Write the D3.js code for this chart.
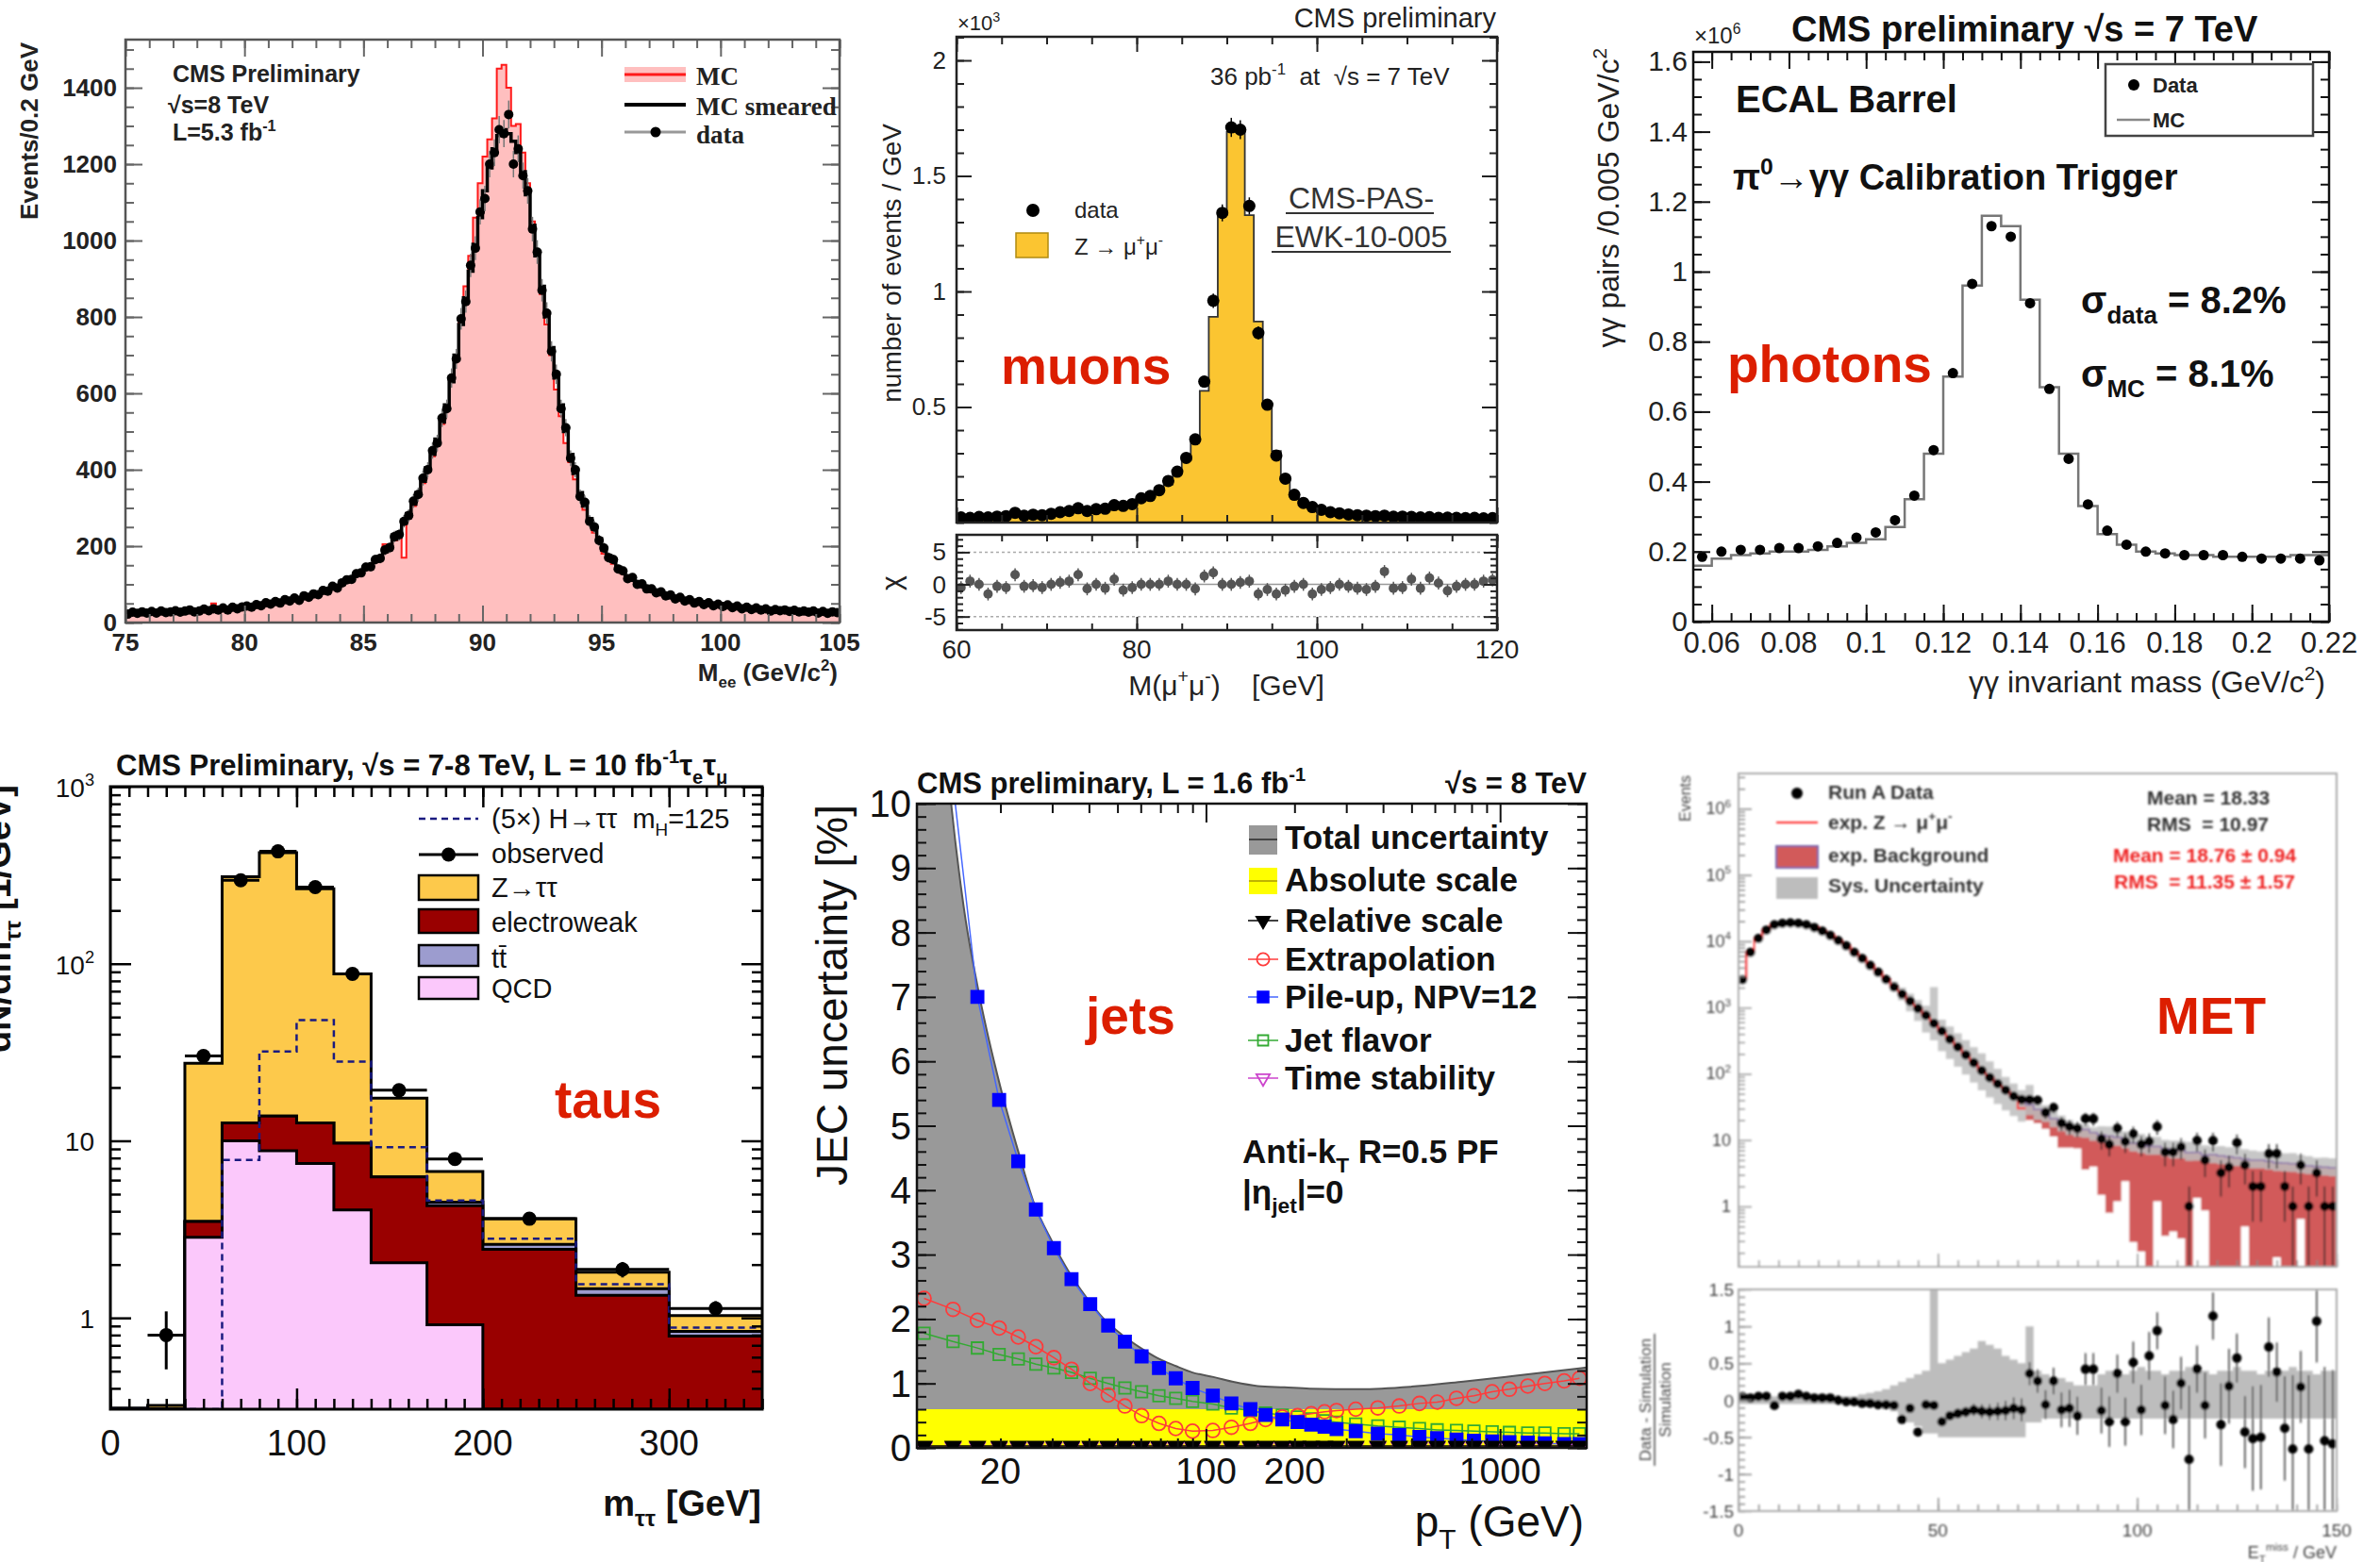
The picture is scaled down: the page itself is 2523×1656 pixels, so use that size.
<!DOCTYPE html>
<html>
<head>
<meta charset="utf-8">
<script src="https://cdn.jsdelivr.net/npm/d3@7"></script>
<style>
  body { margin: 0; background: #fff; }
  svg { display: block; }
  text { white-space: pre; }
</style>
</head>
<body>
<svg id="chart"></svg>
<script>
// ---- Z -> ee (top left), 0.2 GeV bins from 75 to 105 ----
const eeMC = [24,26,25,27,25, 27,26,28,27,29, 28,30,29,31,30, 32,31,33,50,34, 35,37,36,39,38,
  41,42,45,46,49, 51,53,55,57,60, 61,64,67,70,73, 76,80,86,90,96, 101,106,115,122,130,
  140,148,158,170,205, 200,215,235,170,280, 305,335,365,400,435, 475,520,565,630,700,
  790,880,960,1060,1150, 1220,1265,1320,1450,1460, 1400,1300,1305,1230,1150, 1050,960,860,780,700,
  610,540,470,420,375, 330,295,262,235,210, 180,168,154,140,128, 118,110,102,95,89,
  83,79,75,71,67, 63,60,58,55,53, 51,49,48,46,45, 44,42,41,40,38,
  37,36,35,34,33, 33,32,31,31,30, 30,29,29,28,28, 27,26,26,25,25];
const eeSmeared = [25,25,26,26,26, 27,27,27,28,28, 28,29,29,30,30, 31,32,32,33,34, 35,36,37,38,39,
  40,42,44,46,48, 50,52,54,56,58, 60,63,66,69,72, 75,80,85,90,95, 100,108,116,124,132,
  140,150,160,172,186, 200,218,236,260,285, 310,340,370,405,440, 480,525,570,630,700,
  780,850,920,990,1060, 1130,1190,1240,1275,1290, 1280,1260,1230,1180,1120, 1040,960,880,800,720,
  640,570,500,440,390, 340,305,272,245,220, 190,175,160,145,132, 120,112,104,97,91,
  85,81,77,73,69, 65,62,59,56,54, 52,50,49,47,46, 45,43,42,40,39,
  38,37,36,35,34, 33,32,32,31,31, 30,30,29,29,28, 27,27,26,26,25];
const eeData = [22,27,24,28,25, 29,25,30,26,28, 31,27,30,33,28, 30,35,31,36,33, 38,33,40,36,41,
  43,40,47,44,52, 48,55,51,60,56, 64,58,70,66,75, 73,84,82,95,90, 104,112,113,128,130,
  145,146,165,168,190, 196,225,230,265,280, 318,335,378,400,450, 470,535,560,640,690,
  795,840,935,980,1075, 1110,1200,1230,1290,1280, 1330,1200,1240,1170,1130, 1030,970,870,810,710,
  650,560,510,430,400, 330,315,265,250,215, 195,170,165,140,135, 115,118,100,101,88,
  88,78,80,70,72, 62,66,56,60,51, 55,47,52,44,48, 42,46,39,43,36,
  40,34,38,33,36, 30,34,31,33,29, 32,28,30,27,30, 25,29,24,28,26];
const eeXTicks = [75, 80, 85, 90, 95, 100, 105];
const eeYTicks = [0, 200, 400, 600, 800, 1000, 1200, 1400];

// ---- Z -> mumu (top middle), 1 GeV bins from 60 to 120, in units of 10^3 ----
const muData = [0.022,0.02,0.024,0.022,0.026,0.028,0.042,0.03,0.034,0.032,
  0.038,0.045,0.05,0.062,0.05,0.058,0.06,0.075,0.072,0.08,
  0.105,0.115,0.14,0.18,0.22,0.28,0.36,0.61,0.96,1.34,
  1.71,1.70,1.37,0.82,0.51,0.29,0.19,0.12,0.085,0.067,
  0.055,0.045,0.04,0.035,0.032,0.03,0.028,0.03,0.025,0.026,
  0.024,0.022,0.023,0.02,0.021,0.02,0.019,0.02,0.018,0.019];
const muMC = [0.022,0.023,0.024,0.025,0.026,0.028,0.03,0.032,0.034,0.036,
  0.039,0.042,0.046,0.05,0.054,0.058,0.063,0.069,0.076,0.085,
  0.097,0.112,0.135,0.165,0.21,0.27,0.37,0.57,0.89,1.33,
  1.69,1.69,1.33,0.87,0.5,0.31,0.19,0.125,0.088,0.066,
  0.053,0.045,0.039,0.035,0.032,0.03,0.028,0.026,0.025,0.024,
  0.023,0.022,0.021,0.021,0.02,0.02,0.019,0.019,0.018,0.018];
const muChi = [-0.5,0.5,0,-1.5,-0.3,-0.5,1.5,-0.3,-0.2,-0.5,
  0,0.3,0.5,1.5,-0.7,0,-0.6,0.8,-0.9,-0.5,
  0,0,0,0.5,0,0,-0.7,1.3,1.8,0,
  0,0.3,0.5,-1.5,-0.8,-1.5,-0.9,-0.3,0,-1.5,
  -0.8,-0.5,0,-0.3,-0.6,-0.8,-0.3,2,-0.6,-0.5,
  0.8,-0.6,1,0.2,-1,-0.3,0,0,0.5,0.7];
const muXTicks = [60, 80, 100, 120];
const muYTicks = [0.5, 1, 1.5, 2];
const muChiTicks = [-5, 0, 5];

// ---- pi0 -> gamma gamma (top right), 0.005 bins from 0.055 to 0.22, units of 10^6 ----
const pi0MC = [0.16,0.18,0.19,0.195,0.2,0.2,0.205,0.215,0.225,0.235,
  0.27,0.35,0.48,0.70,0.96,1.16,1.13,0.92,0.67,0.48,
  0.33,0.25,0.22,0.2,0.195,0.19,0.19,0.185,0.185,0.185,
  0.185,0.19,0.19];
const pi0Data = [0.185,0.2,0.205,0.205,0.21,0.21,0.215,0.225,0.24,0.255,
  0.29,0.36,0.49,0.71,0.965,1.13,1.10,0.91,0.665,0.465,
  0.335,0.26,0.22,0.2,0.195,0.19,0.19,0.19,0.185,0.18,
  0.18,0.18,0.175];
const pi0XTicks = [0.06, 0.08, 0.1, 0.12, 0.14, 0.16, 0.18, 0.2, 0.22];
const pi0YTicks = [0, 0.2, 0.4, 0.6, 0.8, 1, 1.2, 1.4, 1.6];

// ---- tau tau (bottom left) ----
const tauEdges = [0, 20, 40, 60, 80, 100, 120, 140, 170, 200, 250, 300, 350];
const tauQCD = [0, 0, 2.85, 10, 8.8, 7.45, 4.07, 2.05, 0.915, 0, 0, 0];
const tauEWK = [0, 0, 0.65, 2.6, 5.0, 5.15, 5.63, 4.2, 3.385, 2.44, 1.34, 0.79];
const tauTT = [0, 0, 0, 0, 0, 0, 0, 0, 0.2, 0.16, 0.12, 0.05];
const tauZTT = [0.31, 0.32, 23.9, 297.4, 410.2, 252.4, 78, 11.15, 2.2, 1.03, 0.35, 0.19];
const tauH5 = [0.3, 0.3, 0.3, 7.8, 32, 48, 28, 9.2, 4.6, 2.8, 1.55, 0.88];
const tauObs = [null, 0.8, 30.1, 296, 431, 271, 87.7, 19.3, 7.9, 3.63, 1.88, 1.13];
const tauObsErr = [0, 0.36, 0.04, 0.02, 0.02, 0.02, 0.04, 0.06, 0.08, 0.08, 0.1, 0.1];
const tauXTicks = [0, 100, 200, 300];
const tauYTicks = [1, 10, 100, 1000];

// ---- JEC uncertainty (bottom middle) ----
const jetPt = [11, 13.8, 16.7, 19.8, 23, 26.4, 30.4, 34.9, 40.4, 46.5, 53, 60.4, 69.2, 78.9, 90,
  105.5, 122, 141.6, 159.4, 181.8, 204.8, 228, 253, 278, 323, 384, 454, 532, 611, 711,
  815, 940, 1076, 1242, 1420, 1652, 1862];
const jetExtrap = [2.32, 2.15, 1.98, 1.86, 1.72, 1.57, 1.4, 1.22, 1.0, 0.82,
  0.65, 0.5, 0.38, 0.3, 0.26, 0.27, 0.32, 0.38, 0.44, 0.48,
  0.5, 0.53, 0.56, 0.58, 0.6, 0.62, 0.65, 0.69, 0.71, 0.77,
  0.81, 0.87, 0.91, 0.96, 1.0, 1.04, 1.08];
const jetFlavor = [1.78, 1.65, 1.55, 1.45, 1.38, 1.3, 1.24, 1.17, 1.08, 1.0,
  0.93, 0.87, 0.81, 0.77, 0.72, 0.68, 0.62, 0.58, 0.54, 0.51,
  0.48, 0.45, 0.42, 0.4, 0.37, 0.34, 0.32, 0.3, 0.28, 0.27,
  0.26, 0.25, 0.24, 0.23, 0.23, 0.22, 0.22];
const jetPileup = [20, 10.3, 7.0, 5.4, 4.45, 3.7, 3.1, 2.62, 2.23, 1.9,
  1.65, 1.42, 1.24, 1.08, 0.93, 0.81, 0.69, 0.6, 0.51, 0.44,
  0.4, 0.36, 0.33, 0.29, 0.26, 0.22, 0.2, 0.17, 0.15, 0.13,
  0.11, 0.1, 0.09, 0.08, 0.07, 0.06, 0.06];
const jetRelative = [0.03,0.03,0.03,0.03,0.03,0.03,0.03,0.03,0.03,0.03,
  0.03,0.03,0.03,0.03,0.03,0.03,0.03,0.03,0.03,0.03,
  0.03,0.03,0.03,0.03,0.03,0.03,0.03,0.03,0.03,0.03,
  0.03,0.03,0.03,0.03,0.03,0.03,0.03];
const jetTime = [0.01,0.01,0.01,0.01,0.01,0.01,0.01,0.01,0.01,0.01,
  0.01,0.01,0.01,0.01,0.01,0.01,0.01,0.01,0.01,0.01,
  0.01,0.01,0.01,0.01,0.01,0.01,0.01,0.01,0.01,0.01,
  0.01,0.01,0.01,0.01,0.01,0.01,0.01];
const jetTotPt = [10, 12, 13.6, 15, 17, 20, 23, 26, 30, 34, 39, 45, 52, 60, 68, 79, 90, 106, 125, 150,
  185, 225, 335, 500, 750, 1130, 2000];
const jetTotal = [18, 13, 10, 8.4, 7.0, 5.6, 4.6, 3.8, 3.2, 2.75, 2.35, 2.0, 1.75, 1.55, 1.4, 1.27, 1.17,
  1.1, 1.02, 0.96, 0.94, 0.92, 0.91, 0.95, 1.03, 1.12, 1.25];
const jetAbsPt = [10, 2000];
const jetAbsolute = [0.6, 0.6];
const jetXLabels = [20, 100, 200, 1000];
const jetYTicks = [0, 1, 2, 3, 4, 5, 6, 7, 8, 9, 10];

// ---- MET (bottom right), 2 GeV bins from 0 to 150 ----
const metData = [2630,6800,11000,14700,17700,18600,18900,18600,17700,16100,
  14200,12200,10200,8500,6800,5470,4310,3400,2640,2040,
  1590,1250,964,760,578,439,334,254,193,147,
  112,88,71,57,46,41,41,40,26,31,
  18,16,15,21,21,10.4,8.6,15,9.5,12.4,
  8.6,9.5,16,6.6,6.6,7.9,1,9.8,5,9.8,
  3.2,3.9,9.1,4.2,2,2,6.2,6.2,2,1,
  4.2,1,3.2,1,1];
const metZmm = [2700,6900,11100,14800,17600,18600,18900,18500,17600,16200,
  14300,12300,10300,8500,6800,5500,4350,3420,2650,2050,
  1600,1250,960,760,580,440,335,255,195,148,
  113,88,70,56,46,30,20,18,14.8,11.3,
  7.7,7.7,7.5,3.6,4,1.5,0.8,1.2,2.4,0.29,
  0.21,0,1.2,0.36,0.42,0.33,0,1.35,0.87,0,
  0,0,0,0.5,0,0,0,0.17,0,0,
  0.65,0,0,0,0];
const metBkg = [0,0,0,0,0,0,0,0,0,0,
  0,0,0,0,0,0,0,0,0,0,
  0,0,0,0,0,0,0,0,0,0,
  0,0,0,0,0,8,14,11,10.2,9.7,
  10.3,8.3,7.5,10.9,9,10.5,10.7,9.8,7.6,8.7,
  8.3,8,6.8,7.1,6.6,6.7,6.5,5.2,5.1,6,
  5.8,5.6,5.4,4.7,5,5,4.8,4.4,4.5,4.4,
  3.6,4.1,4,3.9,3.8];
const metRatio = [0.05,0.03,0.05,0.05,-0.07,0.05,0.05,0.08,0.05,0.03,
  0.03,0.03,0,-0.02,-0.02,-0.04,-0.04,-0.06,-0.06,-0.07,
  -0.26,-0.11,-0.43,-0.06,-0.07,-0.29,-0.21,-0.18,-0.16,-0.13,
  -0.15,-0.16,-0.15,-0.14,-0.11,-0.13,0.36,0.26,-0.06,0.26,
  -0.13,-0.11,-0.21,0.42,0.42,-0.14,-0.29,0.36,-0.29,0.51,
  -0.13,0.6,0.94,-0.07,-0.26,0.23,-0.8,0.42,-0.07,1.14,
  -0.33,0.19,0.57,-0.43,-0.52,-0.5,0.72,0.38,-0.38,-0.66,
  0.18,-0.66,1.07,-0.55,-0.59];
const metSysUp = [0.05,0.05,0.05,0.05,0.05,0.05,0.05,0.05,0.05,0.05,
  0.05,0.05,0.05,0.05,0.05,0.08,0.1,0.12,0.15,0.2,
  0.25,0.3,0.35,0.4,2.5,0.5,0.55,0.6,0.65,0.7,
  0.8,0.75,0.7,0.6,0.55,0.5,1.0,0.4,0.35,0.3,
  0.3,0.25,0.2,0.2,0.2,0.35,0.4,0.4,0.35,0.4,
  0.45,0.4,0.4,0.35,0.4,0.4,0.45,0.4,0.4,0.35,
  0.4,0.4,0.45,0.4,0.4,0.35,0.4,0.4,0.4,0.45,
  0.4,0.4,0.35,0.4,0.4];
const metSysLo = [-0.05,-0.05,-0.05,-0.05,-0.05,-0.05,-0.05,-0.05,-0.05,-0.05,
  -0.05,-0.05,-0.05,-0.05,-0.05,-0.06,-0.08,-0.1,-0.12,-0.15,
  -0.2,-0.3,-0.35,-0.45,-0.45,-0.5,-0.5,-0.5,-0.5,-0.5,
  -0.5,-0.5,-0.5,-0.5,-0.5,-0.5,-0.3,-0.3,-0.25,-0.25,
  -0.25,-0.25,-0.25,-0.25,-0.25,-0.25,-0.25,-0.25,-0.25,-0.25,
  -0.25,-0.25,-0.25,-0.25,-0.25,-0.25,-0.25,-0.25,-0.25,-0.25,
  -0.25,-0.25,-0.25,-0.25,-0.25,-0.25,-0.25,-0.25,-0.25,-0.25,
  -0.25,-0.25,-0.25,-0.25,-0.25];
const metXTicks = [0, 50, 100, 150];
const metYTicks = [1, 10, 100, 1000, 10000, 100000, 1000000];
const metRatioTicks = [-1.5, -1, -0.5, 0, 0.5, 1, 1.5];

// ---------------------------------------------------------------
const W = 2523, H = 1656;
const SANS = "'Liberation Sans', Arial, Helvetica, sans-serif";
const SERIF = "'Liberation Serif', 'Times New Roman', serif";
const TAG_RED = '#dc1e00';

const svg = d3.select('#chart')
  .attr('width', W).attr('height', H)
  .attr('viewBox', [0, 0, W, H]);
svg.append('rect').attr('width', W).attr('height', H).attr('fill', '#fff');
const defs = svg.append('defs');

// text with ^{sup} and _{sub}
function rich(t, str, fs) {
  const parts = str.split(/(\^\{[^}]*\}|_\{[^}]*\})/).filter(s => s.length);
  let shift = 0;
  parts.forEach(p => {
    let s = p, target = 0, size = fs;
    if (p.startsWith('^{')) { s = p.slice(2, -1); target = -0.42 * fs; size = 0.65 * fs; }
    else if (p.startsWith('_{')) { s = p.slice(2, -1); target = 0.28 * fs; size = 0.65 * fs; }
    t.append('tspan').attr('dy', target - shift).attr('font-size', size).text(s);
    shift = target;
  });
}

function label(g, x, y, str, o = {}) {
  const fs = o.size || 20;
  const t = g.append('text').attr('x', x).attr('y', y)
    .attr('font-family', o.family || SANS)
    .attr('font-size', fs)
    .attr('font-weight', o.bold ? 'bold' : 'normal')
    .attr('text-anchor', o.anchor || 'start')
    .attr('fill', o.color || '#000');
  if (o.rotate) t.attr('transform', `rotate(${o.rotate},${x},${y})`);
  rich(t, str, fs);
  return t;
}

let clipCount = 0;
function clipped(g, f) {
  const id = 'clip' + (clipCount++);
  defs.append('clipPath').attr('id', id).append('rect')
    .attr('x', f[0]).attr('y', f[1]).attr('width', f[2] - f[0]).attr('height', f[3] - f[1]);
  return g.append('g').attr('clip-path', `url(#${id})`);
}

const AXES = { bottom: d3.axisBottom, top: d3.axisTop, left: d3.axisLeft, right: d3.axisRight };
function ticks(g, scale, side, values, len, pos, color, width) {
  const d = scale.domain();
  const lo = Math.min(d[0], d[1]), hi = Math.max(d[0], d[1]);
  const vals = values.filter(v => v >= lo - 1e-9 && v <= hi + 1e-9);
  const horiz = side === 'bottom' || side === 'top';
  const a = g.append('g')
    .attr('transform', horiz ? `translate(0,${pos})` : `translate(${pos},0)`)
    .call(AXES[side](scale).tickValues(vals).tickSize(-len).tickFormat(''));
  a.select('.domain').remove();
  a.selectAll('.tick text').remove();
  a.selectAll('.tick line').attr('stroke', color).attr('stroke-width', width);
}

// ticks on the sides of a frame f = [x0, y0, x1, y1]
function frameTicks(g, x, y, f, s) {
  const sides = s.sides || 'lrtb';
  const col = s.color || '#000', w = s.width || 2;
  if (s.xMin || s.xMaj) {
    if (sides.includes('b')) {
      if (s.xMin) ticks(g, x, 'bottom', s.xMin, s.min, f[3], col, w);
      if (s.xMaj) ticks(g, x, 'bottom', s.xMaj, s.maj, f[3], col, w);
    }
    if (sides.includes('t')) {
      if (s.xMin) ticks(g, x, 'top', s.xMin, s.min, f[1], col, w);
      if (s.xMaj) ticks(g, x, 'top', s.xMaj, s.maj, f[1], col, w);
    }
  }
  if (sides.includes('l')) {
    if (s.yMin) ticks(g, y, 'left', s.yMin, s.min, f[0], col, w);
    if (s.yMaj) ticks(g, y, 'left', s.yMaj, s.maj, f[0], col, w);
  }
  if (sides.includes('r')) {
    if (s.yMin) ticks(g, y, 'right', s.yMin, s.min, f[2], col, w);
    if (s.yMaj) ticks(g, y, 'right', s.yMaj, s.maj, f[2], col, w);
  }
}

function frame(g, f, color, width) {
  g.append('rect').attr('x', f[0]).attr('y', f[1])
    .attr('width', f[2] - f[0]).attr('height', f[3] - f[1])
    .attr('fill', 'none').attr('stroke', color).attr('stroke-width', width);
}

const stepData = (edges, vals) => edges.map((e, i) => [e, vals[Math.min(i, vals.length - 1)]]);
function histFill(g, x, y, edges, vals, fill, base) {
  const yb = base === undefined ? d3.max(y.range()) : y(base);
  return g.append('path')
    .attr('d', d3.area().curve(d3.curveStepAfter).x(d => x(d[0])).y0(yb).y1(d => y(d[1]))(stepData(edges, vals)))
    .attr('fill', fill);
}
function histLine(g, x, y, edges, vals, stroke, width, dash) {
  const p = g.append('path')
    .attr('d', d3.line().curve(d3.curveStepAfter).x(d => x(d[0])).y(d => y(d[1]))(stepData(edges, vals)))
    .attr('fill', 'none').attr('stroke', stroke).attr('stroke-width', width);
  if (dash) p.attr('stroke-dasharray', dash);
  return p;
}
const logMinors = (a, b) => {
  const out = [];
  for (let e = Math.floor(Math.log10(a)); e <= Math.ceil(Math.log10(b)); e++)
    for (let m = 2; m <= 9; m++) out.push(m * Math.pow(10, e));
  return out;
};
const logMajors = (a, b) => d3.range(Math.floor(Math.log10(a)), Math.ceil(Math.log10(b)) + 1).map(e => Math.pow(10, e));

// ================= Panel 1: Z -> ee =================
{
  const g = svg.append('g');
  const f = [133, 42, 890, 660];
  const x = d3.scaleLinear().domain([75, 105]).range([f[0], f[2]]);
  const y = d3.scaleLinear().domain([0, 1526]).range([f[3], f[1]]);
  const edges = d3.range(eeMC.length + 1).map(i => 75 + i * 0.2);
  const c = clipped(g, f);
  histFill(c, x, y, edges, eeMC, '#ffbfbf');
  histLine(c, x, y, edges, eeMC, '#ff1a1a', 2);
  histLine(c, x, y, edges, eeSmeared, '#000', 3.5);
  eeData.forEach((v, i) => {
    const cx = x(75.1 + i * 0.2), e = Math.sqrt(v);
    c.append('line').attr('x1', cx).attr('x2', cx).attr('y1', y(v - e)).attr('y2', y(v + e))
      .attr('stroke', '#777').attr('stroke-width', 1.5);
    c.append('circle').attr('cx', cx).attr('cy', y(v)).attr('r', 5).attr('fill', '#000');
  });
  frameTicks(g, x, y, f, {
    xMaj: eeXTicks, xMin: d3.range(75, 106, 1), yMaj: eeYTicks, yMin: d3.range(0, 1526, 50),
    maj: 18, min: 9, color: '#666', width: 2
  });
  frame(g, f, '#555', 2.5);
  eeXTicks.forEach(v => label(g, x(v), 690, String(v), { size: 26, bold: true, anchor: 'middle', color: '#222' }));
  eeYTicks.forEach(v => label(g, 124, y(v) + 9, String(v), { size: 26, bold: true, anchor: 'end', color: '#222' }));
  label(g, 40, 45, 'Events/0.2 GeV', { size: 26, bold: true, anchor: 'end', rotate: -90, color: '#222' });
  label(g, 888, 722, 'M_{ee} (GeV/c^{2})', { size: 26, bold: true, anchor: 'end', color: '#222' });
  label(g, 183, 87, 'CMS Preliminary', { size: 25, bold: true, color: '#222' });
  label(g, 178, 120, '√s=8 TeV', { size: 25, bold: true, color: '#222' });
  label(g, 183, 149, 'L=5.3 fb^{-1}', { size: 25, bold: true, color: '#222' });
  // legend
  g.append('rect').attr('x', 662).attr('y', 71).attr('width', 65).attr('height', 16).attr('fill', '#ffbfbf');
  g.append('line').attr('x1', 662).attr('x2', 727).attr('y1', 79).attr('y2', 79).attr('stroke', '#ff1a1a').attr('stroke-width', 3);
  g.append('line').attr('x1', 662).attr('x2', 727).attr('y1', 111).attr('y2', 111).attr('stroke', '#000').attr('stroke-width', 4);
  g.append('line').attr('x1', 662).attr('x2', 727).attr('y1', 140).attr('y2', 140).attr('stroke', '#999').attr('stroke-width', 3);
  g.append('circle').attr('cx', 695).attr('cy', 140).attr('r', 5.5).attr('fill', '#000');
  label(g, 738, 90, 'MC', { size: 27, bold: true, family: SERIF, color: '#222' });
  label(g, 738, 122, 'MC smeared', { size: 27, bold: true, family: SERIF, color: '#222' });
  label(g, 738, 152, 'data', { size: 27, bold: true, family: SERIF, color: '#222' });
}

// ================= Panel 2: Z -> mumu =================
{
  const g = svg.append('g');
  const f = [1014, 39, 1587, 554];
  const fr = [1014, 567, 1587, 668];
  const x = d3.scaleLinear().domain([60, 120]).range([f[0], f[2]]);
  const y = d3.scaleLinear().domain([0, 2.102]).range([f[3], f[1]]);
  const yr = d3.scaleLinear().domain([-7.1, 7.7]).range([fr[3], fr[1]]);
  const edges = d3.range(muMC.length + 1).map(i => 60 + i);
  const c = clipped(g, f);
  histFill(c, x, y, edges, muMC, '#fbc531');
  histLine(c, x, y, edges, muMC, '#333', 1.8);
  muData.forEach((v, i) => {
    const cx = x(60.5 + i), e = Math.sqrt(v * 1000) / 1000;
    c.append('line').attr('x1', cx).attr('x2', cx).attr('y1', y(v - e)).attr('y2', y(v + e))
      .attr('stroke', '#000').attr('stroke-width', 1.5);
    c.append('circle').attr('cx', cx).attr('cy', y(v)).attr('r', 6.5).attr('fill', '#000');
  });
  frameTicks(g, x, y, f, {
    xMaj: muXTicks, xMin: d3.range(60, 121, 5), yMaj: muYTicks, yMin: d3.range(0, 2.11, 0.1),
    maj: 16, min: 8, color: '#222', width: 2
  });
  frame(g, f, '#222', 2.5);

  const cr = clipped(g, fr);
  [-5, 5].forEach(v => cr.append('line').attr('x1', fr[0]).attr('x2', fr[2]).attr('y1', yr(v)).attr('y2', yr(v))
    .attr('stroke', '#aaa').attr('stroke-width', 1.5).attr('stroke-dasharray', '3,3'));
  cr.append('line').attr('x1', fr[0]).attr('x2', fr[2]).attr('y1', yr(0)).attr('y2', yr(0))
    .attr('stroke', '#999').attr('stroke-width', 1.5);
  muChi.forEach((v, i) => {
    const cx = x(60.5 + i);
    cr.append('line').attr('x1', cx).attr('x2', cx).attr('y1', yr(v - 1)).attr('y2', yr(v + 1))
      .attr('stroke', '#555').attr('stroke-width', 1.5);
    cr.append('circle').attr('cx', cx).attr('cy', yr(v)).attr('r', 5).attr('fill', '#555');
  });
  frameTicks(g, x, yr, fr, {
    xMaj: muXTicks, xMin: d3.range(60, 121, 5), yMaj: muChiTicks, yMin: d3.range(-7, 8, 1),
    maj: 14, min: 7, color: '#222', width: 2
  });
  frame(g, fr, '#222', 2.5);

  muXTicks.forEach(v => label(g, x(v), 698, String(v), { size: 28, anchor: 'middle', color: '#222' }));
  muYTicks.forEach(v => label(g, 1003, y(v) + 9, String(v), { size: 26, anchor: 'end', color: '#222' }));
  muChiTicks.forEach(v => label(g, 1003, yr(v) + 9, String(v), { size: 26, anchor: 'end', color: '#222' }));
  label(g, 1015, 32, '×10^{3}', { size: 22, color: '#222' });
  label(g, 1586, 29, 'CMS preliminary', { size: 29, anchor: 'end', color: '#222' });
  label(g, 1283, 90, '36 pb^{-1}  at  √s = 7 TeV', { size: 26, color: '#222' });
  label(g, 955, 131, 'number of events / GeV', { size: 28, anchor: 'end', rotate: -90, color: '#222' });
  label(g, 955, 618, 'χ', { size: 30, anchor: 'middle', rotate: -90, color: '#222' });
  label(g, 1300, 737, 'M(μ^{+}μ^{-})    [GeV]', { size: 30, anchor: 'middle', color: '#222' });
  // legend
  g.append('circle').attr('cx', 1095).attr('cy', 223).attr('r', 7).attr('fill', '#000');
  g.append('rect').attr('x', 1077).attr('y', 247).attr('width', 34).attr('height', 26)
    .attr('fill', '#fbc531').attr('stroke', '#b08a10').attr('stroke-width', 1.5);
  label(g, 1139, 231, 'data', { size: 24, color: '#222' });
  label(g, 1139, 270, 'Z → μ^{+}μ^{-}', { size: 24, color: '#222' });
  // note reference
  label(g, 1443, 221, 'CMS-PAS-', { size: 32, anchor: 'middle', color: '#333' });
  label(g, 1443, 262, 'EWK-10-005', { size: 32, anchor: 'middle', color: '#333' });
  g.append('line').attr('x1', 1363).attr('x2', 1520).attr('y1', 226).attr('y2', 226).attr('stroke', '#333').attr('stroke-width', 2);
  g.append('line').attr('x1', 1348).attr('x2', 1538).attr('y1', 267).attr('y2', 267).attr('stroke', '#333').attr('stroke-width', 2);
  label(g, 1061, 407, 'muons', { size: 55, bold: true, color: TAG_RED });
}

// ================= Panel 3: pi0 -> gamma gamma =================
{
  const g = svg.append('g');
  const f = [1795, 55, 2469, 659];
  const x = d3.scaleLinear().domain([0.0552, 0.22]).range([f[0], f[2]]);
  const y = d3.scaleLinear().domain([0, 1.628]).range([f[3], f[1]]);
  const edges = d3.range(pi0MC.length + 1).map(i => 0.055 + i * 0.005);
  const c = clipped(g, f);
  histLine(c, x, y, edges, pi0MC, '#777', 2.5);
  pi0Data.forEach((v, i) => {
    c.append('circle').attr('cx', x(0.0575 + i * 0.005)).attr('cy', y(v)).attr('r', 5.5).attr('fill', '#000');
  });
  frameTicks(g, x, y, f, {
    xMaj: pi0XTicks, xMin: d3.range(0.055, 0.2201, 0.005), yMaj: pi0YTicks, yMin: d3.range(0, 1.63, 0.05),
    maj: 18, min: 9, color: '#111', width: 2
  });
  frame(g, f, '#111', 2.5);
  pi0XTicks.forEach(v => label(g, x(v), 692, String(v), { size: 31, anchor: 'middle', color: '#222' }));
  pi0YTicks.forEach(v => label(g, 1789, y(v) + 10, String(v), { size: 30, anchor: 'end', color: '#222' }));
  label(g, 1796, 46, '×10^{6}', { size: 24, color: '#222' });
  label(g, 1899, 44, 'CMS preliminary √s = 7 TeV', { size: 38, bold: true, color: '#111' });
  label(g, 1840, 119, 'ECAL Barrel', { size: 40, bold: true, color: '#111' });
  label(g, 1837, 201, 'π^{0}→γγ Calibration Trigger', { size: 38, bold: true, color: '#111' });
  label(g, 2206, 332, 'σ_{data} = 8.2%', { size: 40, bold: true, color: '#111' });
  label(g, 2206, 410, 'σ_{MC} = 8.1%', { size: 40, bold: true, color: '#111' });
  label(g, 1716, 51, 'γγ pairs /0.005 GeV/c^{2}', { size: 32, anchor: 'end', rotate: -90, color: '#222' });
  label(g, 2465, 734, 'γγ invariant mass (GeV/c^{2})', { size: 32, anchor: 'end', color: '#222' });
  g.append('rect').attr('x', 2232).attr('y', 68).attr('width', 220).attr('height', 76)
    .attr('fill', '#fff').attr('stroke', '#444').attr('stroke-width', 2.5);
  g.append('circle').attr('cx', 2262).attr('cy', 90).attr('r', 6).attr('fill', '#000');
  g.append('line').attr('x1', 2244).attr('x2', 2279).attr('y1', 127).attr('y2', 127).attr('stroke', '#888').attr('stroke-width', 2.5);
  label(g, 2282, 98, 'Data', { size: 22, bold: true, color: '#222' });
  label(g, 2282, 135, 'MC', { size: 22, bold: true, color: '#222' });
  label(g, 1831, 405, 'photons', { size: 55, bold: true, color: TAG_RED });
}

// ================= Panel 4: tau tau =================
{
  const g = svg.append('g');
  const f = [117, 834, 808, 1494];
  const x = d3.scaleLinear().domain([0, 350]).range([f[0], f[2]]);
  const y = d3.scaleLog().domain([0.305, 1000]).range([f[3], f[1]]).clamp(true);
  const c = clipped(g, f);
  const cQCD = tauQCD.slice();
  const cEWK = tauEWK.map((v, i) => v + cQCD[i]);
  const cTT = tauTT.map((v, i) => v + cEWK[i]);
  const cZTT = tauZTT.map((v, i) => v + cTT[i]);
  const layers = [[cZTT, '#fdc94b'], [cTT, '#9c9ccf'], [cEWK, '#990000'], [cQCD, '#fbc8fb']];
  layers.forEach(([vals, col]) => {
    histFill(c, x, y, tauEdges, vals, col);
    histLine(c, x, y, tauEdges, vals, '#000', 3);
  });
  histLine(c, x, y, tauEdges, tauH5, '#1a1a80', 2.5, '7,5');
  tauObs.forEach((v, i) => {
    if (v === null) return;
    const x0 = x(tauEdges[i]), x1 = x(tauEdges[i + 1]), cx = (x0 + x1) / 2, e = tauObsErr[i];
    c.append('line').attr('x1', x0).attr('x2', x1).attr('y1', y(v)).attr('y2', y(v)).attr('stroke', '#000').attr('stroke-width', 3);
    c.append('line').attr('x1', cx).attr('x2', cx).attr('y1', y(v * (1 - e))).attr('y2', y(v * (1 + e))).attr('stroke', '#000').attr('stroke-width', 3);
    c.append('circle').attr('cx', cx).attr('cy', y(v)).attr('r', 7.5).attr('fill', '#000');
  });
  frameTicks(g, x, y, f, {
    xMaj: tauXTicks, xMin: d3.range(0, 351, 10), yMaj: tauYTicks, yMin: logMinors(0.3, 1000),
    maj: 22, min: 11, color: '#000', width: 2.5
  });
  frame(g, f, '#000', 3);
  tauXTicks.forEach(v => label(g, x(v), 1543, String(v), { size: 38, anchor: 'middle', color: '#111' }));
  const tauLab = { 1: '1', 10: '10', 100: '10^{2}', 1000: '10^{3}' };
  tauYTicks.forEach(v => label(g, 100, y(v) + 11, tauLab[v], { size: 28, anchor: 'end', color: '#111' }));
  label(g, 123, 822, 'CMS Preliminary, √s = 7-8 TeV, L = 10 fb^{-1}τ_{e}τ_{μ}', { size: 31, bold: true, color: '#111' });
  label(g, 807, 1607, 'm_{ττ} [GeV]', { size: 38, bold: true, anchor: 'end', color: '#111' });
  label(g, 11, 832, 'dN/dm_{ττ} [1/GeV]', { size: 38, bold: true, anchor: 'end', rotate: -90, color: '#111' });
  // legend
  const lx0 = 444, lx1 = 507;
  g.append('line').attr('x1', lx0).attr('x2', lx1).attr('y1', 868).attr('y2', 868)
    .attr('stroke', '#1a1a80').attr('stroke-width', 2.5).attr('stroke-dasharray', '7,5');
  g.append('line').attr('x1', lx0).attr('x2', lx1).attr('y1', 906).attr('y2', 906).attr('stroke', '#000').attr('stroke-width', 3);
  g.append('circle').attr('cx', (lx0 + lx1) / 2).attr('cy', 906).attr('r', 7.5).attr('fill', '#000');
  [[928, 954, '#fdc94b'], [964, 989, '#990000'], [1002, 1024, '#9c9ccf'], [1036, 1059, '#fbc8fb']].forEach(([a, b, col]) => {
    g.append('rect').attr('x', lx0).attr('y', a).attr('width', lx1 - lx0).attr('height', b - a)
      .attr('fill', col).attr('stroke', '#000').attr('stroke-width', 2.5);
  });
  label(g, 521, 878, '(5×) H→ττ  m_{H}=125', { size: 29, color: '#111' });
  label(g, 521, 915, 'observed', { size: 29, color: '#111' });
  label(g, 521, 951, 'Z→ττ', { size: 29, color: '#111' });
  label(g, 521, 988, 'electroweak', { size: 29, color: '#111' });
  label(g, 521, 1026, 'tt̄', { size: 29, color: '#111' });
  label(g, 521, 1058, 'QCD', { size: 29, color: '#111' });
  label(g, 588, 1185, 'taus', { size: 55, bold: true, color: TAG_RED });
}

// ================= Panel 5: JEC uncertainty =================
{
  const g = svg.append('g');
  const f = [972, 852, 1682, 1535];
  const x = d3.scaleLog().domain([10.4, 1970]).range([f[0], f[2]]);
  const y = d3.scaleLinear().domain([0, 10]).range([f[3], f[1]]);
  const c = clipped(g, f);
  const tot = jetTotPt.map((p, i) => [p, jetTotal[i]]);
  c.append('path').attr('d', d3.area().curve(d3.curveMonotoneX).x(d => x(d[0])).y0(y(0)).y1(d => y(d[1]))(tot))
    .attr('fill', '#999');
  c.append('path').attr('d', d3.line().curve(d3.curveMonotoneX).x(d => x(d[0])).y(d => y(d[1]))(tot))
    .attr('fill', 'none').attr('stroke', '#555').attr('stroke-width', 2);
  const abs = jetAbsPt.map((p, i) => [p, jetAbsolute[i]]);
  c.append('path').attr('d', d3.area().x(d => x(d[0])).y0(y(0)).y1(d => y(d[1]))(abs)).attr('fill', '#ffff00');

  const series = [
    { v: jetFlavor, col: '#33aa33', type: d3.symbolSquare, size: 150, open: true },
    { v: jetExtrap, col: '#ff3b3b', type: d3.symbolCircle, size: 170, open: true },
    { v: jetPileup, col: '#0000ff', lineCol: '#4466ff', type: d3.symbolSquare, size: 170, open: false },
    { v: jetTime, col: '#cc44cc', type: d3.symbolTriangle, size: 110, open: true, rot: 180 },
    { v: jetRelative, col: '#000', type: d3.symbolTriangle, size: 110, open: false, rot: 180 }
  ];
  series.forEach(s => {
    const pts = jetPt.map((p, i) => [p, s.v[i]]);
    c.append('path').attr('d', d3.line().x(d => x(d[0])).y(d => y(d[1]))(pts))
      .attr('fill', 'none').attr('stroke', s.lineCol || s.col).attr('stroke-width', 1.5);
    pts.forEach(d => {
      c.append('path').attr('d', d3.symbol().type(s.type).size(s.size)())
        .attr('transform', `translate(${x(d[0])},${y(d[1])})` + (s.rot ? ` rotate(${s.rot})` : ''))
        .attr('fill', s.open ? 'none' : s.col).attr('stroke', s.col).attr('stroke-width', 1.8);
    });
  });
  frameTicks(g, x, y, f, {
    xMaj: logMajors(10, 2000), xMin: logMinors(10, 2000), yMaj: jetYTicks, yMin: d3.range(0, 10.01, 0.2),
    maj: 20, min: 10, color: '#111', width: 2
  });
  frame(g, f, '#111', 2.5);
  jetXLabels.forEach(v => label(g, x(v), 1573, String(v), { size: 39, anchor: 'middle', color: '#111' }));
  jetYTicks.forEach(v => label(g, 966, y(v) + 14, String(v), { size: 40, anchor: 'end', color: '#111' }));
  label(g, 972, 841, 'CMS preliminary, L = 1.6 fb^{-1}', { size: 31, bold: true, color: '#111' });
  label(g, 1682, 841, '√s = 8 TeV', { size: 31, bold: true, anchor: 'end', color: '#111' });
  label(g, 898, 853, 'JEC uncertainty [%]', { size: 46, anchor: 'end', rotate: -90, color: '#111' });
  label(g, 1679, 1629, 'p_{T} (GeV)', { size: 46, anchor: 'end', color: '#111' });
  // legend
  const lx = 1339, ltx = 1362;
  const rows = [
    ['Total uncertainty', 900], ['Absolute scale', 945], ['Relative scale', 988], ['Extrapolation', 1029],
    ['Pile-up, NPV=12', 1069], ['Jet flavor', 1115], ['Time stability', 1155]
  ];
  g.append('rect').attr('x', 1324).attr('y', 875).attr('width', 30).attr('height', 31).attr('fill', '#999');
  g.append('line').attr('x1', 1324).attr('x2', 1354).attr('y1', 890).attr('y2', 890).attr('stroke', '#444').attr('stroke-width', 2);
  g.append('rect').attr('x', 1324).attr('y', 920).attr('width', 30).attr('height', 28).attr('fill', '#ffff00');
  g.append('line').attr('x1', 1324).attr('x2', 1354).attr('y1', 934).attr('y2', 934).attr('stroke', '#aa9900').attr('stroke-width', 1.5);
  const legSym = [null, null, series[4], series[1], series[2], series[0], series[3]];
  rows.forEach(([txt, by], i) => {
    const s = legSym[i];
    if (s) {
      const cy = by - 12;
      g.append('line').attr('x1', lx - 16).attr('x2', lx + 16).attr('y1', cy).attr('y2', cy)
        .attr('stroke', s.lineCol || s.col).attr('stroke-width', 1.5);
      g.append('path').attr('d', d3.symbol().type(s.type).size(s.size * 0.8)())
        .attr('transform', `translate(${lx},${cy})` + (s.rot ? ` rotate(${s.rot})` : ''))
        .attr('fill', s.open ? 'none' : s.col).attr('stroke', s.col).attr('stroke-width', 1.8);
    }
    label(g, ltx, by, txt, { size: 35, bold: true, color: '#111' });
  });
  label(g, 1317, 1233, 'Anti-k_{T} R=0.5 PF', { size: 35, bold: true, color: '#111' });
  label(g, 1317, 1276, '|η_{jet}|=0', { size: 35, bold: true, color: '#111' });
  label(g, 1151, 1096, 'jets', { size: 55, bold: true, color: TAG_RED });
}

// ================= Panel 6: MET =================
{
  const blur = defs.append('filter').attr('id', 'soft');
  blur.append('feGaussianBlur').attr('stdDeviation', 0.9);
  const g = svg.append('g').attr('filter', 'url(#soft)');
  const f = [1843, 820, 2477, 1343];
  const fr = [1843, 1367, 2477, 1602];
  const x = d3.scaleLinear().domain([0, 150]).range([f[0], f[2]]);
  const y = d3.scaleLog().domain([0.123, 3.4e6]).range([f[3], f[1]]).clamp(true);
  const yr = d3.scaleLinear().domain([-1.5, 1.5]).range([fr[3], fr[1]]).clamp(true);
  const edges = d3.range(metData.length + 1).map(i => i * 2);
  const total = metZmm.map((v, i) => v + metBkg[i]);
  const c = clipped(g, f);
  // stacked prediction: background on top of Z
  histFill(c, x, y, edges, total, '#d25a5a');
  histLine(c, x, y, edges, total, '#ff2a2a', 2);
  histFill(c, x, y, edges, metZmm, '#fff');
  // systematic band
  const band = d3.area().curve(d3.curveStepAfter).x(d => x(d[0])).y0(d => y(d[1])).y1(d => y(d[2]));
  const bandPts = edges.map((e, i) => {
    const k = Math.min(i, total.length - 1);
    return [e, total[k] * (1 + metSysLo[k]), total[k] * (1 + metSysUp[k])];
  });
  c.append('path').attr('d', band(bandPts)).attr('fill', '#bdbdbd').attr('opacity', 0.85);
  histLine(c, x, y, edges, total, '#8a7bb0', 1.5);
  histLine(c, x, y, edges.slice(0, 37), metZmm.slice(0, 36), '#ff2a2a', 2);
  metData.forEach((v, i) => {
    const cx = x(1 + 2 * i), e = Math.sqrt(v);
    c.append('line').attr('x1', cx).attr('x2', cx).attr('y1', y(Math.max(v - e, 0.01))).attr('y2', y(v + e))
      .attr('stroke', '#222').attr('stroke-width', 1.5);
    c.append('circle').attr('cx', cx).attr('cy', y(v)).attr('r', 5).attr('fill', '#000');
  });
  frameTicks(g, x, y, f, {
    xMaj: metXTicks, xMin: d3.range(0, 151, 5), yMaj: metYTicks, yMin: logMinors(0.1, 3e6),
    maj: 14, min: 7, color: '#888', width: 1.5, sides: 'lb'
  });
  frame(g, f, '#aaa', 2);

  const cr = clipped(g, fr);
  const rBand = edges.map((e, i) => {
    const k = Math.min(i, metSysUp.length - 1);
    return [e, metSysLo[k], metSysUp[k]];
  });
  cr.append('path').attr('d', d3.area().curve(d3.curveStepAfter).x(d => x(d[0])).y0(d => yr(d[1])).y1(d => yr(d[2]))(rBand))
    .attr('fill', '#bdbdbd');
  metRatio.forEach((v, i) => {
    const cx = x(1 + 2 * i), e = 1 / Math.sqrt(metData[i]);
    cr.append('line').attr('x1', cx).attr('x2', cx).attr('y1', yr(v - e)).attr('y2', yr(v + e))
      .attr('stroke', '#333').attr('stroke-width', 1.5);
    cr.append('circle').attr('cx', cx).attr('cy', yr(v)).attr('r', 5).attr('fill', '#000');
  });
  frameTicks(g, x, yr, fr, {
    xMaj: metXTicks, xMin: d3.range(0, 151, 5), yMaj: metRatioTicks, yMin: d3.range(-1.5, 1.51, 0.1),
    maj: 14, min: 7, color: '#888', width: 1.5, sides: 'lb'
  });
  frame(g, fr, '#aaa', 2);

  const metLab = { 1: '1', 10: '10', 100: '10^{2}', 1000: '10^{3}', 10000: '10^{4}', 100000: '10^{5}', 1000000: '10^{6}' };
  metYTicks.forEach(v => label(g, 1835, y(v) + 6, metLab[v], { size: 18, anchor: 'end', color: '#444' }));
  metRatioTicks.forEach(v => label(g, 1838, yr(v) + 7, String(v), { size: 19, anchor: 'end', color: '#444' }));
  metXTicks.forEach(v => label(g, x(v), 1629, String(v), { size: 19, anchor: 'middle', color: '#444' }));
  label(g, 1792, 822, 'Events', { size: 16, anchor: 'end', rotate: -90, color: '#444' });
  label(g, 2477, 1652, 'E_{T}^{miss} / GeV', { size: 18, anchor: 'end', color: '#444' });
  label(g, 1750, 1484, 'Data - Simulation', { size: 17, anchor: 'middle', rotate: -90, color: '#444' });
  g.append('line').attr('x1', 1754).attr('x2', 1754).attr('y1', 1414).attr('y2', 1554).attr('stroke', '#444').attr('stroke-width', 1.5);
  label(g, 1771, 1484, 'Simulation', { size: 17, anchor: 'middle', rotate: -90, color: '#444' });
  // legend
  g.append('circle').attr('cx', 1905).attr('cy', 841).attr('r', 6).attr('fill', '#000');
  g.append('line').attr('x1', 1883).attr('x2', 1927).attr('y1', 872).attr('y2', 872).attr('stroke', '#ff2a2a').attr('stroke-width', 2);
  g.append('rect').attr('x', 1883).attr('y', 897).attr('width', 44).attr('height', 23)
    .attr('fill', '#d25a5a').attr('stroke', '#7766aa').attr('stroke-width', 2);
  g.append('rect').attr('x', 1883).attr('y', 930).attr('width', 44).attr('height', 23).attr('fill', '#bdbdbd');
  label(g, 1938, 847, 'Run A Data', { size: 21, bold: true, color: '#333' });
  label(g, 1938, 879, 'exp. Z → μ^{+}μ^{-}', { size: 21, bold: true, color: '#333' });
  label(g, 1938, 914, 'exp. Background', { size: 21, bold: true, color: '#333' });
  label(g, 1938, 946, 'Sys. Uncertainty', { size: 21, bold: true, color: '#333' });
  label(g, 2276, 853, 'Mean = 18.33', { size: 21, bold: true, color: '#333' });
  label(g, 2276, 881, 'RMS  = 10.97', { size: 21, bold: true, color: '#333' });
  label(g, 2240, 914, 'Mean = 18.76 ± 0.94', { size: 21, bold: true, color: '#ee2222' });
  label(g, 2241, 942, 'RMS  = 11.35 ± 1.57', { size: 21, bold: true, color: '#ee2222' });
}
// tag label drawn sharp, outside the blurred group
label(svg, 2286, 1096, 'MET', { size: 55, bold: true, color: TAG_RED });
</script>
</body>
</html>
